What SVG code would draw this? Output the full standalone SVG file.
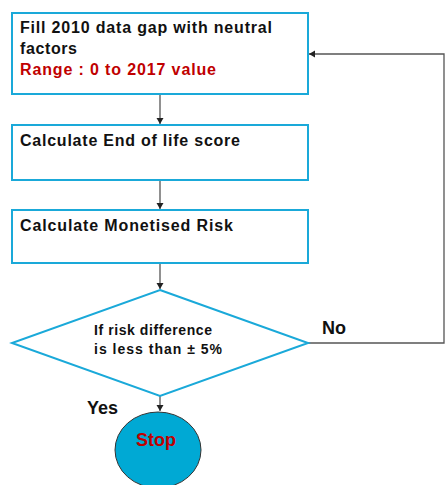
<svg xmlns="http://www.w3.org/2000/svg" width="445" height="485" viewBox="0 0 445 485">
<defs>
<style>
.box{fill:#fff;stroke:#1aa9d9;stroke-width:2}
.t{font-family:"Liberation Sans",Arial,sans-serif;font-weight:bold;fill:#111}
.red{fill:#c00000}
.c{fill:none;stroke:#555;stroke-width:1.3}
</style>
<marker id="ah" markerWidth="8" markerHeight="8" refX="6" refY="3.5" orient="auto" markerUnits="userSpaceOnUse">
<path d="M0,0 L6,3.5 L0,7 z" fill="#222"/>
</marker>
</defs>
<rect width="445" height="485" fill="#fff"/>
<g id="connectors">
<line class="c" x1="160" y1="94" x2="160" y2="124" marker-end="url(#ah)"/>
<line class="c" x1="160" y1="180" x2="160" y2="209" marker-end="url(#ah)"/>
<line class="c" x1="160" y1="263" x2="160" y2="289" marker-end="url(#ah)"/>
<line class="c" x1="160" y1="396" x2="160" y2="411" marker-end="url(#ah)"/>
<polyline class="c" points="308,343 444,343 444,54 309,54" marker-end="url(#ah)"/>
<text class="t" x="322" y="334" font-size="18">No</text>
<text class="t" x="87" y="414" font-size="18">Yes</text>
</g>
<g id="fill">
<rect class="box" x="12" y="13" width="296" height="81"/>
<text class="t" x="20" y="33" font-size="16" textLength="252" lengthAdjust="spacing">Fill 2010 data gap with neutral</text>
<text class="t" x="20" y="54" font-size="16" textLength="57" lengthAdjust="spacing">factors</text>
<text class="t red" x="20" y="75" font-size="16" textLength="196" lengthAdjust="spacing">Range : 0 to 2017 value</text>
</g>
<g id="eol">
<rect class="box" x="12" y="125" width="296" height="55"/>
<text class="t" x="20" y="146" font-size="16" textLength="220" lengthAdjust="spacing">Calculate End of life score</text>
</g>
<g id="risk">
<rect class="box" x="12" y="210" width="296" height="53"/>
<text class="t" x="20" y="231" font-size="16" textLength="213" lengthAdjust="spacing">Calculate Monetised Risk</text>
</g>
<g id="decision">
<polygon class="box" points="160,290 308,343 160,396 12,343"/>
<text class="t" x="94" y="335" font-size="14" textLength="118" lengthAdjust="spacing">If risk difference</text>
<text class="t" x="94" y="354" font-size="14" textLength="128" lengthAdjust="spacing">is less than ± 5%</text>
</g>
<g id="stop">
<ellipse cx="158" cy="450" rx="43" ry="38" fill="#00a9d4" stroke="#333" stroke-width="1"/>
<text class="t red" x="156" y="446" font-size="18" text-anchor="middle">Stop</text>
</g>
</svg>
